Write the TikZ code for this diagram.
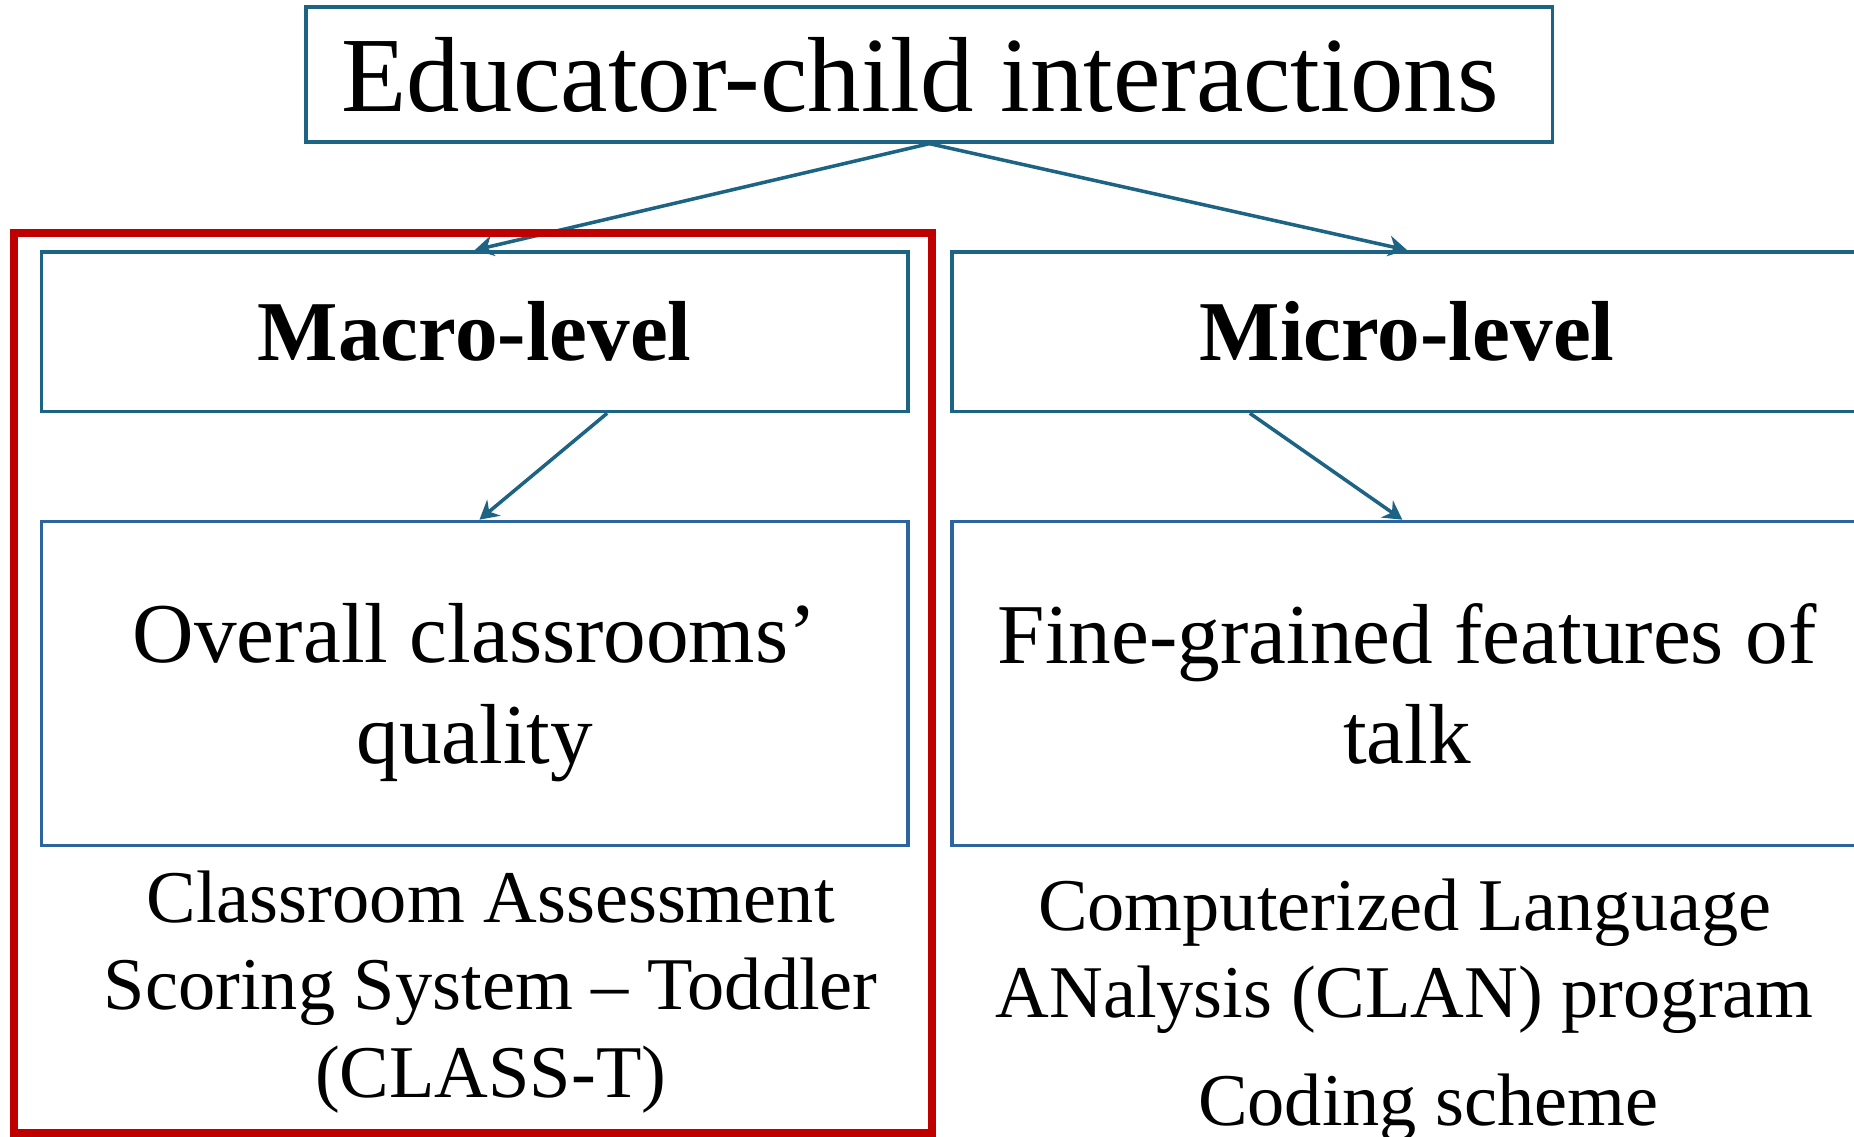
\documentclass[tikz,border=0pt]{standalone}
\usepackage{fontspec}
\setmainfont{Liberation Serif}
\usetikzlibrary{arrows.meta}

\definecolor{tealline}{RGB}{28,99,132}
\definecolor{blueline}{RGB}{44,100,160}
\definecolor{redframe}{RGB}{192,0,0}

\begin{document}
\begin{tikzpicture}[>={Stealth[length=4.5pt,width=5pt]},
  topbox/.style={draw=tealline, line width=0.85pt, minimum width=10.54cm, minimum height=1.14cm, font=\fontsize{25.7}{28}\selectfont},
  levelbox/.style={draw=tealline, line width=0.85pt, minimum height=1.35cm, font=\fontsize{20.5}{24}\selectfont\bfseries},
  featbox/.style={draw=blueline, line width=0.85pt, minimum height=2.74cm, align=center, text depth=-0.1cm, font=\fontsize{20.5}{24.1}\selectfont},
  toolnote/.style={align=center, font=\fontsize{17.9}{21}\selectfont},
  link/.style={->, draw=tealline, line width=0.85pt}]
  \useasboundingbox (0,0) rectangle (15.68,-9.61);

  % top level
  \node[topbox] (eci) at (7.86,-0.63) {Educator-child interactions\hspace*{0.16cm}};

  % two levels of analysis
  \node[levelbox, minimum width=7.33cm] (macro) at (4.015,-2.805) {Macro-level};
  \node[levelbox, minimum width=7.70cm] (micro) at (11.90,-2.805) {Micro-level};
  \node[featbox, minimum width=7.33cm] (overall) at (4.015,-5.78) {Overall classrooms'\\quality};
  \node[featbox, minimum width=7.70cm] (fine) at (11.90,-5.78) {Fine-grained features of\\talk};

  % measures under each box
  \node[toolnote] (classt) at (4.15,-8.39) {Classroom Assessment\\Scoring System -- Toddler\\(CLASS-T)};
  \node[toolnote] (clan) at (11.88,-8.09) {Computerized Language\\ANalysis (CLAN) program};
  \node[toolnote] (coding) at (12.08,-9.37) {Coding scheme};

  \draw[link] (eci.south) -- (macro.north);
  \draw[link] (eci.south) -- (micro.north);
  \draw[link] ([xshift=1.12cm]macro.south) -- ([xshift=0.04cm]overall.north);
  \draw[link] ([xshift=-1.33cm]micro.south) -- ([xshift=-0.04cm]fine.north);

  % highlight around the macro side
  \draw[redframe, line width=2pt] (0.12,-1.97) rectangle (7.88,-9.58);
\end{tikzpicture}
\end{document}
